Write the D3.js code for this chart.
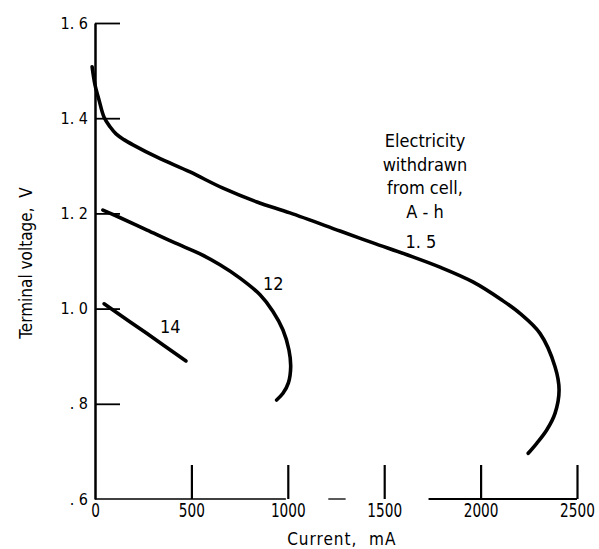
<!DOCTYPE html>
<html>
<head>
<meta charset="utf-8">
<script src="https://cdn.jsdelivr.net/npm/d3@7"></script>
<style>
  body { margin: 0; background: #fff; }
  svg { display: block; }
  text { fill: #000; }
</style>
</head>
<body>
<svg id="chart" width="599" height="549"></svg>
<script>
// values
var currentTicks = [0, 500, 1000, 1500, 2000, 2500];
var voltageTicks = [0.6, 0.8, 1.0, 1.2, 1.4, 1.6];
var voltageTickLabels = [". 6", ". 8", "1. 0", "1. 2", "1. 4", "1. 6"];

// electricity withdrawn 1.5 A-h
var curve15Current = [-15, 0, 21, 47, 78, 109, 150, 197, 322, 493, 664, 840, 1011, 1271, 1442, 1618, 1789, 1960, 2110, 2204, 2308, 2386, 2407, 2386, 2343, 2291, 2247];
var curve15Voltage = [1.508, 1.470, 1.438, 1.402, 1.382, 1.367, 1.355, 1.344, 1.318, 1.287, 1.253, 1.224, 1.201, 1.163, 1.138, 1.113, 1.087, 1.056, 1.018, 0.990, 0.948, 0.878, 0.829, 0.780, 0.745, 0.717, 0.696];

// 12 A-h
var curve12Current = [41, 114, 270, 415, 545, 648, 752, 856, 923, 975, 1006, 1015, 1003, 975, 942];
var curve12Voltage = [1.207, 1.194, 1.165, 1.138, 1.115, 1.092, 1.064, 1.029, 0.994, 0.955, 0.913, 0.878, 0.844, 0.822, 0.808];

// 14 A-h
var curve14Current = [47, 268, 472];
var curve14Voltage = [1.010, 0.948, 0.890];

var curveNames = ["1. 5", "12", "14"];
var curveLabelAt = [[1690, 1.127], [925, 1.039], [390, 0.949]]; // [mA, V] where the name sits
var noteLines = ["Electricity", "withdrawn", "from cell,", "A - h"];

// scan leaves the x axis line broken in places
var axisSegments = [[0, 990], [1210, 1300], [1730, 2500]];

var svg = d3.select("#chart");
var x = d3.scaleLinear().domain([0, 2500]).range([95, 577]);
var y = d3.scaleLinear().domain([0.6, 1.6]).range([499, 23]);

var cond = "'DejaVu Sans Condensed', 'Liberation Sans Narrow', sans-serif";

// x axis
var xAxis = svg.append("g")
    .attr("transform", "translate(0," + y(0.6) + ")")
    .call(d3.axisBottom(x).tickValues(currentTicks).tickFormat(d3.format("d"))
        .tickSizeInner(-34).tickSizeOuter(0).tickPadding(5));
xAxis.select(".domain").remove();
xAxis.selectAll(".tick line").attr("stroke", "#000").attr("stroke-width", 2.2)
    .filter(function(d) { return d == 0; }).remove();
// tall narrow digits like the original lettering
xAxis.selectAll(".tick text")
    .style("font-family", cond).style("font-size", "19px").attr("fill", "#000")
    .attr("transform", "scale(0.8,1)");

svg.append("g").selectAll("line")
    .data(axisSegments)
    .enter().append("line")
    .attr("x1", function(d) { return x(d[0]); })
    .attr("x2", function(d) { return x(d[1]); })
    .attr("y1", y(0.6))
    .attr("y2", y(0.6))
    .attr("stroke", "#000")
    .attr("stroke-width", function(d, i) { return i == 2 ? 1.8 : 1.3; });

// y axis
var yAxis = svg.append("g")
    .attr("transform", "translate(" + x(0) + ",0)")
    .call(d3.axisLeft(y).tickValues(voltageTicks)
        .tickFormat(function(d, i) { return voltageTickLabels[i]; })
        .tickSizeInner(-25).tickSizeOuter(0).tickPadding(7));
yAxis.select(".domain").attr("stroke", "#000").attr("stroke-width", 2.5);
yAxis.selectAll(".tick line").attr("stroke", "#000").attr("stroke-width", 1.8)
    .filter(function(d) { return d == 0.6; }).remove();
yAxis.selectAll(".tick text")
    .style("font-family", cond).style("font-size", "16px").attr("fill", "#000")
    .style("white-space", "pre");

// axis titles
svg.append("text")
    .attr("x", x(1280)).attr("y", 545)
    .attr("text-anchor", "middle")
    .style("font-family", cond).style("font-size", "17px").style("letter-spacing", "1px")
    .style("white-space", "pre")
    .text("Current,  mA");

svg.append("text")
    .attr("transform", "translate(32,263) rotate(-90)")
    .attr("text-anchor", "middle")
    .style("font-family", cond).style("font-size", "17px")
    .style("white-space", "pre")
    .text("Terminal voltage,  V");

// curves
var line = d3.line()
    .x(function(d) { return x(d[0]); })
    .y(function(d) { return y(d[1]); })
    .curve(d3.curveCatmullRom.alpha(0.5));

var curves = [
    d3.zip(curve15Current, curve15Voltage),
    d3.zip(curve12Current, curve12Voltage),
    d3.zip(curve14Current, curve14Voltage)
];

svg.append("g").selectAll("path")
    .data(curves)
    .enter().append("path")
    .attr("d", line)
    .attr("fill", "none")
    .attr("stroke", "#000")
    .attr("stroke-width", 3.6)
    .attr("stroke-linecap", "round");

svg.append("g").selectAll("text")
    .data(curveNames)
    .enter().append("text")
    .attr("x", function(d, i) { return x(curveLabelAt[i][0]); })
    .attr("y", function(d, i) { return y(curveLabelAt[i][1]); })
    .attr("text-anchor", "middle")
    .style("font-family", cond).style("font-size", "18px")
    .style("white-space", "pre")
    .text(function(d) { return d; });

// note
svg.append("g").selectAll("text")
    .data(noteLines)
    .enter().append("text")
    .attr("x", 425)
    .attr("y", function(d, i) { return 147 + i * 23.5; })
    .attr("text-anchor", "middle")
    .style("font-family", cond).style("font-size", "18px")
    .text(function(d) { return d; });
</script>
</body>
</html>
